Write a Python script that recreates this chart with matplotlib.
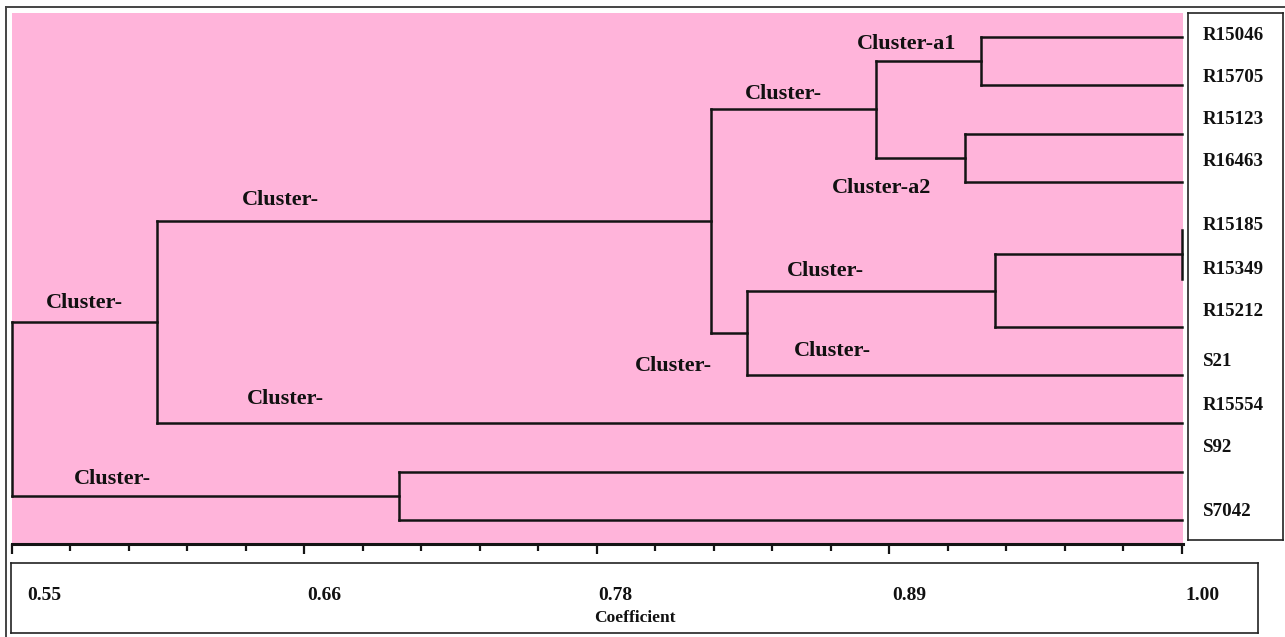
import matplotlib
matplotlib.use("Agg")
import matplotlib.pyplot as plt
import matplotlib.transforms as mtransforms
from matplotlib.lines import Line2D
import numpy as np

# ---------------- data ----------------
leaves = ['R15046', 'R15705', 'R15123', 'R16463', 'R15185', 'R15349',
          'R15212', 'S21', 'R15554', 'S92', 'S7042']
# merges: (child_a, child_b, coefficient); new node ids start at len(leaves)
merge_a = [0, 2, 11, 4, 14, 15, 13, 17, 9, 18]
merge_b = [1, 3, 12, 5, 6, 7, 16, 8, 10, 19]
merge_h = [0.9227, 0.9165, 0.8823, 1.000, 0.928, 0.8327, 0.8188, 0.6058, 0.6988, 0.550]

tick_values = [0.55, 0.6625, 0.775, 0.8875, 1.00]
tick_labels = ['0.55', '0.66', '0.78', '0.89', '1.00']
minor_step = 0.0225

cluster_texts = ['Cluster-a1', 'Cluster-', 'Cluster-a2', 'Cluster-', 'Cluster-',
                 'Cluster-', 'Cluster-', 'Cluster-', 'Cluster-', 'Cluster-']

# ---------------- layout ----------------
W, H = 1285, 637
fig = plt.figure(figsize=(W / 100, H / 100), dpi=100)
fig.patch.set_facecolor('white')

def fr(x0, y0, x1, y1):
    return [x0 / W, 1 - y1 / H, (x1 - x0) / W, (y1 - y0) / H]

serif = ['Liberation Serif', 'DejaVu Serif']
pink = '#FFB4DA'
lc = '#141414'

ax = fig.add_axes(fr(12, 13, 1183, 544))
ax.set_facecolor(pink)
ax.set_xlim(0.55, 1.0004)
n = len(leaves)
ax.set_ylim(n - 0.503, -0.497)

# dendrogram coordinates
node_x = {i: 1.0 for i in range(n)}
node_y = {i: float(i) for i in range(n)}
for k, (a, b, h) in enumerate(zip(merge_a, merge_b, merge_h)):
    nid = n + k
    for c in (a, b):
        ax.plot([node_x[c], h], [node_y[c], node_y[c]], color=lc, lw=1.8,
                solid_capstyle='projecting', clip_on=False)
    ax.plot([h, h], [node_y[a], node_y[b]], color=lc, lw=1.8,
            solid_capstyle='projecting', clip_on=False)
    node_x[nid] = h
    node_y[nid] = (node_y[a] + node_y[b]) / 2

# cluster annotation positions (pixel centers in reference)
cl_px = [(907, 44), (783, 94), (882, 188), (280, 200), (84, 303),
         (825, 271), (832, 351), (673, 366), (285, 399), (112, 479)]
for t, (px, py) in zip(cluster_texts, cl_px):
    fig.text(px / W, 1 - py / H, t, ha='center', va='center',
             family=serif, fontweight='bold', fontsize=16, color='#111111')

# axis styling
for s in ['top', 'right', 'left']:
    ax.spines[s].set_visible(False)
ax.spines['bottom'].set_linewidth(2.2)
ax.spines['bottom'].set_color(lc)
ax.set_yticks([])
all_ticks = np.round(np.arange(0.55, 1.0 + 1e-9, minor_step), 4)
ax.set_xticks(tick_values)
ax.set_xticks([t for t in all_ticks if not np.any(np.isclose(t, tick_values))], minor=True)
ax.tick_params(axis='x', which='major', direction='out', length=7, width=1.6,
               color=lc, labelbottom=False)
ax.tick_params(axis='x', which='minor', direction='out', length=5, width=1.6,
               color=lc)

# label box at right
lb = fig.add_axes(fr(1188, 13, 1283, 540))
lb.set_xlim(0, 95)
lb.set_ylim(527, 0)
lb.set_xticks([]); lb.set_yticks([])
for s in lb.spines.values():
    s.set_linewidth(1.2); s.set_color('#222222')
label_py = [33, 75, 117, 160, 224, 267, 310, 360, 403, 446, 510]
for name, py in zip(leaves, label_py):
    lb.text(15, py - 11, name, ha='left', va='center', family=serif,
            fontweight='bold', fontsize=13.7, color='#111111')

# bottom box with tick labels
bb = fig.add_axes(fr(11, 563, 1258, 633))
bb.set_xticks([]); bb.set_yticks([])
for s in bb.spines.values():
    s.set_linewidth(1.2); s.set_color('#222222')
trans = mtransforms.blended_transform_factory(ax.transData, bb.transAxes)
offsets = [15, 3, 1, 3, 3]
for v, lab, off in zip(tick_values, tick_labels, offsets):
    t = mtransforms.offset_copy(trans, fig=fig, x=off * 0.72, y=0, units='points')
    bb.text(v, 0.54, lab, transform=t, ha='left', va='center', family=serif,
            fontweight='bold', fontsize=14, color='#111111')
bb.text(0.5, 0.22, 'Coefficient', transform=bb.transAxes, ha='center', va='center',
        family=serif, fontweight='bold', fontsize=12.5, color='#111111')

# outer frame
fig.add_artist(Line2D([6 / W, 6 / W], [0, 1 - 7 / H], transform=fig.transFigure,
                      color='#444444', lw=1.4))
fig.add_artist(Line2D([6 / W, 1], [1 - 7 / H, 1 - 7 / H], transform=fig.transFigure,
                      color='#444444', lw=1.4))

fig.savefig('out.png', dpi=100)
